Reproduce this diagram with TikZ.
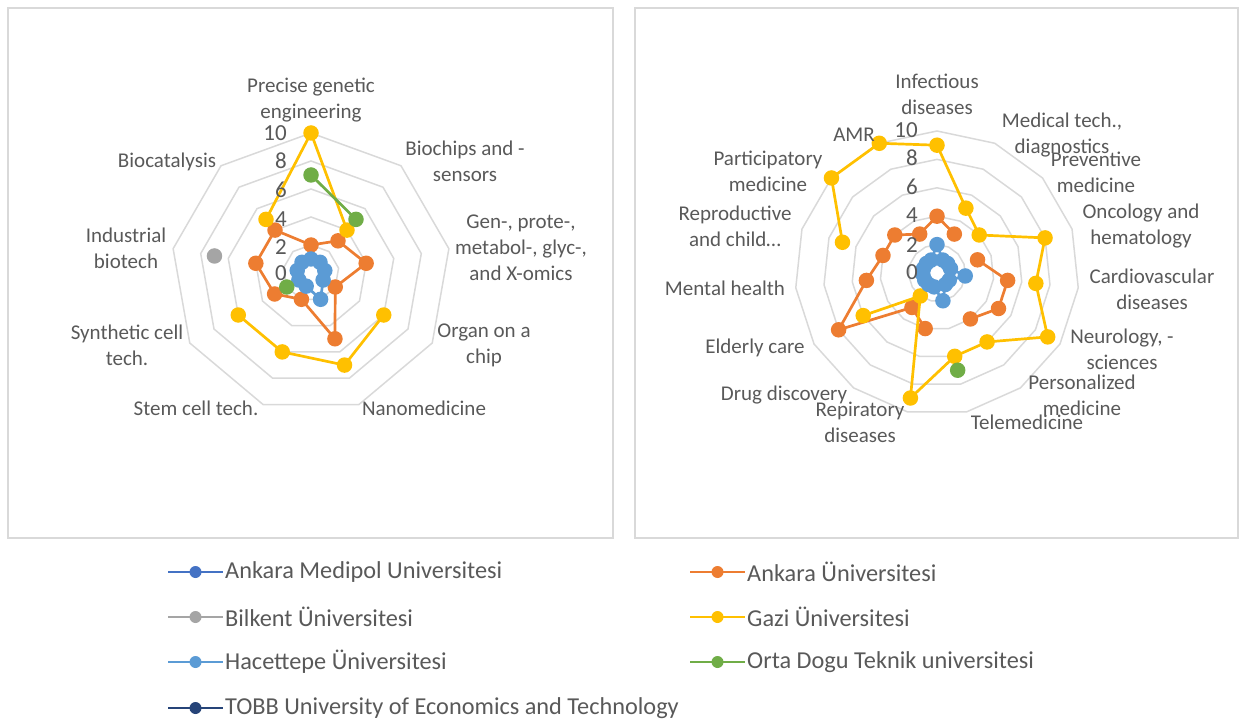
\documentclass[tikz,border=0pt]{standalone}
\usepackage{fontspec}
\setmainfont{Carlito}
\usetikzlibrary{calc}

\definecolor{TxtGray}{HTML}{595959}
\definecolor{GridGray}{HTML}{D9D9D9}
\definecolor{MedipolBlue}{HTML}{4472C4}
\definecolor{AnkaraOrange}{HTML}{ED7D31}
\definecolor{BilkentGray}{HTML}{A5A5A5}
\definecolor{GaziYellow}{HTML}{FFC000}
\definecolor{HacettepeBlue}{HTML}{5B9BD5}
\definecolor{OdtuGreen}{HTML}{70AD47}
\definecolor{TobbNavy}{HTML}{264478}

\tikzstyle{Frame}=[draw=GridGray, line width=1.5pt]
\tikzstyle{Ring}=[draw=GridGray, line width=1.5pt]
\tikzstyle{AxisLabel}=[text=TxtGray, font=\fontsize{21}{26}\selectfont, align=center, inner sep=0pt]
\tikzstyle{TickLabel}=[text=TxtGray, font=\fontsize{23}{28}\selectfont, anchor=east, inner sep=0pt]
\tikzstyle{Dot}=[circle, inner sep=0pt, minimum size=15.5pt]
\tikzstyle{SeriesLine}=[line width=2.7pt, line join=round]
\tikzstyle{OrangeDot}=[Dot, fill=AnkaraOrange]
\tikzstyle{GrayDot}=[Dot, fill=BilkentGray]
\tikzstyle{YellowDot}=[Dot, fill=GaziYellow]
\tikzstyle{BlueDot}=[Dot, fill=HacettepeBlue]
\tikzstyle{GreenDot}=[Dot, fill=OdtuGreen]
\tikzstyle{KeyLine}=[line width=1.8pt]
\tikzstyle{KeyDot}=[circle, inner sep=0pt, minimum size=12pt]
\tikzstyle{KeyText}=[text=TxtGray, font=\fontsize{24.3}{29}\selectfont, anchor=west, inner sep=0pt]

\begin{document}
\begin{tikzpicture}[x=1pt, y=-1pt]
\useasboundingbox (0,0) rectangle (1239,719);

% panels
\draw[Frame] (8,8) rectangle (613,538);
\draw[Frame] (635,8) rectangle (1238,538);

% ---------- left radar (9 axes) ----------
\begin{scope}[shift={(311,273)}]
\foreach \k in {2,4,...,10}
  \draw[Ring] (-90:{14*\k}) \foreach \i in {1,...,8} {-- ({40*\i-90}:{14*\k})} -- cycle;

% Ankara
\foreach \i/\v in {0/2,1/3,2/4,3/2,4/5,5/2,6/3,7/4,8/4}
  \coordinate (LAnk\i) at ({40*\i-90}:{14*\v});
\draw[SeriesLine, AnkaraOrange] (LAnk0) \foreach \i in {1,...,8} {-- (LAnk\i)} -- cycle;
\foreach \i in {0,...,8} \node[OrangeDot] (LAnkDot\i) at (LAnk\i) {};

% Bilkent
\coordinate (LBil7) at (190:98);
\node[GrayDot] (LBilDot7) at (LBil7) {};

% Gazi
\foreach \i/\v in {0/10,1/4,3/6,4/7,5/6,6/6,8/5}
  \coordinate (LGaz\i) at ({40*\i-90}:{14*\v});
\draw[SeriesLine, GaziYellow] (LGaz8) -- (LGaz0) -- (LGaz1);
\draw[SeriesLine, GaziYellow] (LGaz3) -- (LGaz4) -- (LGaz5) -- (LGaz6);
\foreach \i in {0,1,3,4,5,6,8} \node[YellowDot] (LGazDot\i) at (LGaz\i) {};

% Hacettepe
\foreach \i/\v in {0/1,1/1,2/1,3/1,4/2,5/1,6/1,7/1,8/1}
  \coordinate (LHac\i) at ({40*\i-90}:{14*\v});
\draw[SeriesLine, HacettepeBlue] (LHac0) \foreach \i in {1,...,8} {-- (LHac\i)} -- cycle;
\foreach \i in {0,...,8} \node[BlueDot] (LHacDot\i) at (LHac\i) {};

% ODTU
\foreach \i/\v in {0/7,1/5,6/2}
  \coordinate (LOdt\i) at ({40*\i-90}:{14*\v});
\draw[SeriesLine, OdtuGreen] (LOdt0) -- (LOdt1);
\foreach \i in {0,1,6} \node[GreenDot] (LOdtDot\i) at (LOdt\i) {};
\end{scope}

\foreach \t/\y in {10/133,8/161,6/190,4/219,2/247,0/273}
  \node[TickLabel] (LTick\t) at (287,\y) {\t};

\node[AxisLabel] (LPrecise) at (311,100) {Precise genetic\\engineering};
\node[AxisLabel] (LBiochips) at (465,161) {Biochips and -\\sensors};
\node[AxisLabel] (LOmics) at (521,248) {Gen-, prote-,\\metabol-, glyc-,\\and X-omics};
\node[AxisLabel] (LOrgan) at (484,345) {Organ on a\\chip};
\node[AxisLabel] (LNano) at (424,408) {Nanomedicine};
\node[AxisLabel] (LStem) at (196,408) {Stem cell tech.};
\node[AxisLabel] (LSynth) at (127,345) {Synthetic cell\\tech.};
\node[AxisLabel] (LIndus) at (126,248) {Industrial\\biotech};
\node[AxisLabel] (LBiocat) at (167,162) {Biocatalysis};

% ---------- right radar (15 axes) ----------
\begin{scope}[shift={(937,273)}]
\foreach \k in {2,4,...,10}
  \draw[Ring] (-90:{14.2*\k}) \foreach \i in {1,...,14} {-- ({24*\i-90}:{14.2*\k})} -- cycle;

% Ankara
\foreach \i/\v in {0/4,1/3,3/3,4/5,5/5,6/4,8/4,9/3,10/8,11/5,12/4,13/4,14/3}
  \coordinate (RAnk\i) at ({24*\i-90}:{14.2*\v});
\draw[SeriesLine, AnkaraOrange] (RAnk8) -- (RAnk9) -- (RAnk10) -- (RAnk11) -- (RAnk12) -- (RAnk13) -- (RAnk14) -- (RAnk0) -- (RAnk1);
\draw[SeriesLine, AnkaraOrange] (RAnk3) -- (RAnk4) -- (RAnk5) -- (RAnk6);
\foreach \i in {0,1,3,4,5,6,8,9,10,11,12,13,14} \node[OrangeDot] (RAnkDot\i) at (RAnk\i) {};

% Gazi
\foreach \i/\v in {0/9,1/5,2/4,3/8,4/7,5/9,6/6,7/6,8/9,9/2,10/6,12/7,13/10,14/10}
  \coordinate (RGaz\i) at ({24*\i-90}:{14.2*\v});
\draw[SeriesLine, GaziYellow] (RGaz12) -- (RGaz13) -- (RGaz14) \foreach \i in {0,...,10} {-- (RGaz\i)};
\foreach \i in {0,...,10,12,13,14} \node[YellowDot] (RGazDot\i) at (RGaz\i) {};

% Hacettepe
\foreach \i/\v in {0/2,1/1,2/1,3/1,4/2,5/1,6/1,7/2,8/1,9/1,10/1,11/1,12/1,13/1,14/1}
  \coordinate (RHac\i) at ({24*\i-90}:{14.2*\v});
\draw[SeriesLine, HacettepeBlue] (RHac0) \foreach \i in {1,...,14} {-- (RHac\i)} -- cycle;
\foreach \i in {0,...,14} \node[BlueDot] (RHacDot\i) at (RHac\i) {};

% ODTU
\coordinate (ROdt7) at (78:99.4);
\node[GreenDot] (ROdtDot7) at (ROdt7) {};
\end{scope}

\foreach \t/\y in {10/130,8/158,6/187,4/215,2/245,0/272}
  \node[TickLabel] (RTick\t) at (918,\y) {\t};

\node[AxisLabel] (RInfect) at (937,94) {Infectious\\diseases};
\node[AxisLabel] (RMedtech) at (1062,135) {Medical tech.,\\diagnostics};
\node[AxisLabel] (RPrevent) at (1096,172) {Preventive\\medicine};
\node[AxisLabel] (ROnco) at (1141,226) {Oncology and\\hematology};
\node[AxisLabel] (RCardio) at (1152,289) {Cardiovascular\\diseases};
\node[AxisLabel] (RNeuro) at (1122,349) {Neurology, -\\sciences};
\node[AxisLabel] (RPerson) at (1082,395) {Personalized\\medicine};
\node[AxisLabel] (RTele) at (1027,422) {Telemedicine};
\node[AxisLabel] (RResp) at (860,422) {Repiratory\\diseases};
\node[AxisLabel] (RDrug) at (784,395) {Drug discovery};
\node[AxisLabel] (RElder) at (755,348) {Elderly care};
\node[AxisLabel] (RMental) at (725,288) {Mental health};
\node[AxisLabel] (RRepro) at (735,226) {Reproductive\\and child\dots};
\node[AxisLabel] (RPartic) at (768,171) {Participatory\\medicine};
\node[AxisLabel] (RAmr) at (854,135) {AMR};

% ---------- legend ----------
\foreach \n/\c/\x/\y/\t in {
    Medipol/MedipolBlue/168/572/Ankara Medipol Universitesi,
    Ankara/AnkaraOrange/690/572/Ankara Üniversitesi,
    Bilkent/BilkentGray/168/617/Bilkent Üniversitesi,
    Gazi/GaziYellow/690/617/Gazi Üniversitesi,
    Hacettepe/HacettepeBlue/168/662/Hacettepe Üniversitesi,
    Odtu/OdtuGreen/690/662/Orta Dogu Teknik universitesi,
    Tobb/TobbNavy/168/708/TOBB University of Economics and Technology}
{
  \coordinate (Key\n A) at (\x,\y);
  \coordinate (Key\n B) at (\x+55,\y);
  \draw[KeyLine, \c] (Key\n A) -- (Key\n B);
  \node[KeyDot, fill=\c] (Key\n Dot) at ($(Key\n A)!0.5!(Key\n B)$) {};
  \node[KeyText] (Key\n Text) at (\x+57,\y) {\t};
}
\end{tikzpicture}
\end{document}
